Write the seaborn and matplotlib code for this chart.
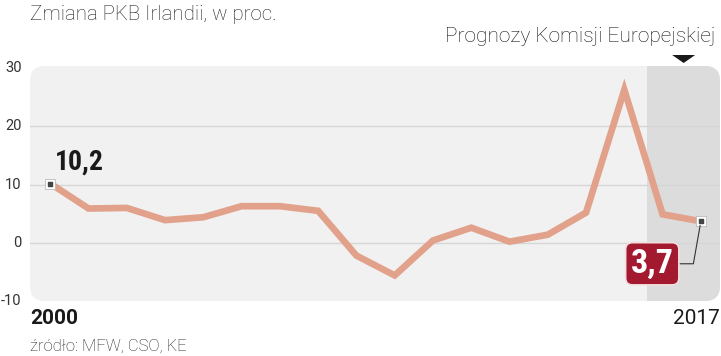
import matplotlib
matplotlib.use("Agg")
import matplotlib.pyplot as plt
from matplotlib import font_manager as fm
from matplotlib.patches import FancyBboxPatch, Rectangle, Polygon
import matplotlib.transforms as mtrans
import seaborn as sns
import pandas as pd

years = list(range(2000, 2018))
gdp_change = [10.2, 5.9, 6.0, 3.9, 4.4, 6.3, 6.3, 5.5, -2.2, -5.6, 0.4, 2.6, 0.2, 1.4, 5.2, 26.3, 4.9, 3.7]
y_ticks = [-10, 0, 10, 20, 30]
title = "Zmiana PKB Irlandii, w proc."
forecast_label = "Prognozy Komisji Europejskiej"
source = "źródło: MFW, CSO, KE"
forecast_start = 2015.6
first_label = "10,2"
last_label = "3,7"

sns.set_style("white")


def _w(f):
    wt = f.weight
    if isinstance(wt, str):
        return 700 if "bold" in wt.lower() else 400
    return wt


bold_fams = {f.name for f in fm.fontManager.ttflist if _w(f) >= 700}
narrow = "Roboto"
for cand in ["Roboto Condensed", "Barlow Semi Condensed", "Archivo Narrow",
             "Asap Condensed", "Barlow Condensed", "Liberation Sans Narrow"]:
    if cand in bold_fams:
        narrow = cand
        break
plt.rcParams["font.family"] = ["Roboto", "DejaVu Sans"]

df = pd.DataFrame({"year": years, "gdp": gdp_change})

fig = plt.figure(figsize=(7.21, 3.56), dpi=100)
ax = fig.add_axes([30 / 721, 55 / 356, 690 / 721, 235 / 356])
ax.set_xlim(1999.47, 2017.5)
ax.set_ylim(-10, 30.4)
ax.axis("off")

bg_kw = dict(boxstyle="round,pad=0,rounding_size=0.15", transform=fig.dpi_scale_trans,
             linewidth=0, zorder=0)
x0, y0, w, h = 0.30, 0.55, 6.90, 2.35
bg = FancyBboxPatch((x0, y0), w, h, facecolor="#f1f1f1", **bg_kw)
fig.add_artist(bg)
dark = FancyBboxPatch((x0, y0), w, h, facecolor="#dcdcdc", **bg_kw)
fig.add_artist(dark)
clip = Rectangle((forecast_start, -10), 5, 41, transform=ax.transData)
dark.set_clip_path(clip)

for t in [0, 10, 20]:
    ax.axhline(t, color="#d6d6d6", lw=1.0, zorder=1)

sns.lineplot(data=df, x="year", y="gdp", ax=ax, color="#e2a18a", linewidth=4.8,
             zorder=3, legend=False)
ax.lines[-1].set_solid_joinstyle("miter")

ends = df.iloc[[0, -1]]
ax.scatter(ends["year"], ends["gdp"], marker="s", s=45, color="white",
           edgecolor="#bbbbbb", linewidth=0.6, zorder=4)
ax.scatter(ends["year"], ends["gdp"], marker="s", s=9, color="#444444", zorder=5)

for t in y_ticks:
    ax.text(-0.012, (t + 10) / 40.4, str(t), transform=ax.transAxes, ha="right",
            va="center", fontsize=10.5, color="#333333")

ax.text(years[0] + 0.12, gdp_change[0] + 3.6, first_label, fontsize=20, fontweight="bold",
        family=[narrow, "DejaVu Sans"], color="#1a1a1a", ha="left", va="center", zorder=6)

ax.annotate(last_label, xy=(years[-1], gdp_change[-1]), xytext=(2015.73, -3.6),
            textcoords="data", ha="center", va="center", fontsize=24.5, fontweight="bold",
            family=[narrow, "DejaVu Sans"], color="white", zorder=6,
            bbox=dict(boxstyle="round,pad=0.15,rounding_size=0.2", fc="#a31a30",
                      ec="#f2dede", lw=1.2),
            arrowprops=dict(arrowstyle="-", color="#333333", lw=0.8,
                            connectionstyle="angle,angleA=0,angleB=80,rad=0",
                            shrinkA=0, shrinkB=3))

ax.text(0, -0.035, str(years[0]), transform=ax.transAxes, ha="left", va="top",
        fontsize=15, fontweight="bold", color="#1a1a1a")
ax.text(1, -0.035, str(years[-1]), transform=ax.transAxes, ha="right", va="top",
        fontsize=15, color="#1a1a1a")

fig.text(30 / 721, 1 - 14 / 356, title, ha="left", va="center", fontsize=14.8,
         fontweight="light", color="#222222")
fig.text(715 / 721, 1 - 37 / 356, forecast_label, ha="right", va="center", fontsize=15,
         fontweight="light", color="#111111")
fig.text(30 / 721, 1 - 346 / 356, source, ha="left", va="center", fontsize=12,
         fontweight="light", color="#222222")

cx = (forecast_start + 2017.5) / 2
trans = mtrans.blended_transform_factory(ax.transData, fig.transFigure)
tri_w = 0.3
tri = Polygon([(cx - tri_w, 1 - 55 / 356), (cx + tri_w, 1 - 55 / 356), (cx, 1 - 63 / 356)],
              closed=True, transform=trans, facecolor="#1a1a1a", edgecolor="none")
fig.add_artist(tri)

fig.savefig("out.png", dpi=100)
